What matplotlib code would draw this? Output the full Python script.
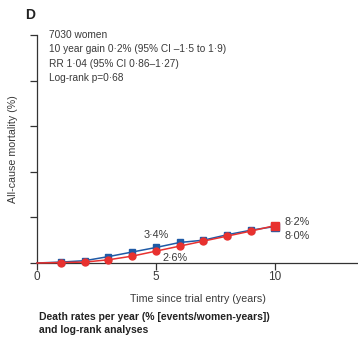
import numpy as np
import matplotlib.pyplot as plt

# --- data ---
years = [0, 1, 2, 3, 4, 5, 6, 7, 8, 9, 10]
blue_mort = [0, 0.2, 0.5, 1.4, 2.4, 3.4, 4.5, 5.0, 6.2, 7.2, 8.0]
red_mort = [0, 0.1, 0.2, 0.7, 1.5, 2.6, 3.7, 4.8, 5.9, 7.0, 8.2]
y_ticks = [0, 10, 20, 30, 40, 50]
x_ticks = [0, 5, 10]
info_lines = ['7030 women',
              '10 year gain 0·2% (95% CI –1·5 to 1·9)',
              'RR 1·04 (95% CI 0·86–1·27)',
              'Log-rank p=0·68']

plt.rcParams['font.family'] = ['Liberation Sans Narrow', 'Liberation Sans', 'DejaVu Sans']
blue = '#1f5aa6'
red = '#e8312f'
txt = '#3a3a3a'

fig = plt.figure(figsize=(3.58, 3.37), dpi=100)
ax = fig.add_axes([0.1034, 0.2196, 0.8966, 0.6766])

ax.plot(years, blue_mort, color=blue, lw=1.1, zorder=2)
ax.plot(years[1:-1], blue_mort[1:-1], 's', color=blue, ms=4.5, zorder=3)
ax.plot(years[-1], blue_mort[-1], 's', color=blue, ms=5.5, zorder=3)
ax.plot(years, red_mort, color=red, lw=1.1, zorder=4)
ax.plot(years[1:-1], red_mort[1:-1], 'o', color=red, ms=5, zorder=5)
ax.plot(years[-1], red_mort[-1], 's', color=red, ms=5.5, zorder=5)

ax.set_xlim(0, 13.5)
ax.set_ylim(0, 50)
ax.set_xticks(x_ticks)
ax.set_yticks(y_ticks)
ax.set_yticklabels([])
ax.spines['top'].set_visible(False)
ax.spines['right'].set_visible(False)
for s in ['left', 'bottom']:
    ax.spines[s].set_color('#333333')
    ax.spines[s].set_linewidth(0.9)
ax.tick_params(direction='out', length=5, width=0.9, color='#333333',
               labelsize=8.5, labelcolor=txt, pad=1)
for ln in ax.lines:
    ln.set_clip_on(False)

ax.set_xlabel('Time since trial entry (years)', fontsize=7.7, color=txt, labelpad=8)
ax.set_ylabel('All-cause mortality (%)', fontsize=7.7, color=txt)
ax.yaxis.set_label_coords(-0.059, 0.5)

ax.text(5, 6.2, '3·4%', fontsize=7.8, color=txt, ha='center', va='center')
ax.text(5.8, 1.1, '2·6%', fontsize=7.8, color=txt, ha='center', va='center')
ax.text(10.4, 9.0, '8·2%', fontsize=7.8, color=txt, ha='left', va='center')
ax.text(10.4, 5.9, '8·0%', fontsize=7.8, color=txt, ha='left', va='center')

for i, line in enumerate(info_lines):
    fig.text(0.137, 0.896 - i * 0.0425, line, fontsize=7.3, color=txt,
             ha='left', va='center')

fig.text(0.085, 0.955, 'D', fontsize=10, fontweight='bold', color='#222222',
         ha='center', va='center')
fig.text(0.108, 0.040, 'Death rates per year (% [events/women-years])\nand log-rank analyses',
         fontsize=7.5, fontweight='bold', color='#222222', ha='left', va='center',
         linespacing=1.45)

fig.savefig('out.png', dpi=100)
